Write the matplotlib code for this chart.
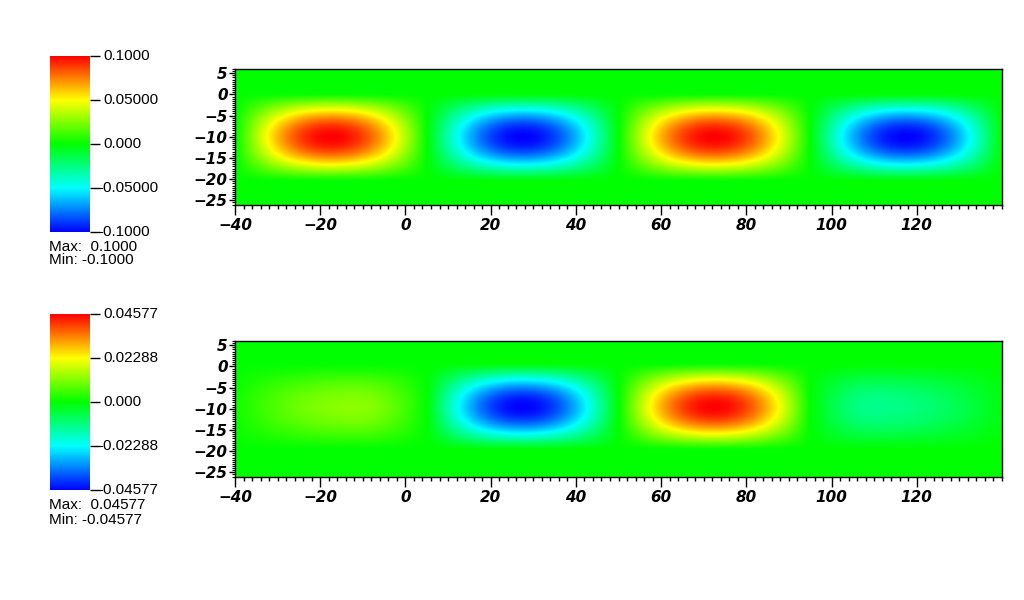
import numpy as np
import matplotlib
matplotlib.use("Agg")
import matplotlib.pyplot as plt
from matplotlib.colors import LinearSegmentedColormap
from matplotlib.ticker import MultipleLocator
import matplotlib.transforms as mtransforms

# ---------------- data ----------------
x_extent = [-40.0, 140.0]
y_extent = [-26.1, 6.0]

x_ticks = [-40, -20, 0, 20, 40, 60, 80, 100, 120]
y_ticks = [5, 0, -5, -10, -15, -20, -25]

# top panel: blobs (centre x, amplitude, half-width left/right), vertical band
top_centers = [-17.5, 27.5, 72.5, 117.5]
top_amps = [0.1, -0.1, 0.1, -0.1]
top_half_left = [22.5, 22.5, 22.5, 22.5]
top_half_right = [22.5, 22.5, 22.5, 22.5]
top_band = [-20.5, 0.3]
top_vmin, top_vmax = -0.1, 0.1
top_cbar_ticks = [-0.1, -0.05, 0.0, 0.05, 0.1]
top_cbar_labels = ["-0.1000", "-0.05000", "0.000", "0.05000", "0.1000"]
top_max_text = "Max:  0.1000"
top_min_text = "Min: -0.1000"

# bottom panel
bot_centers = [-12.0, 27.5, 72.5, 110.0]
bot_amps = [0.0125, -0.04577, 0.04577, -0.0125]
bot_half_left = [30.0, 22.5, 22.5, 15.0]
bot_half_right = [17.0, 22.5, 22.5, 32.0]
bot_band = [-19.8, 0.6]
bot_vmin, bot_vmax = -0.04577, 0.04577
bot_cbar_ticks = [-0.04577, -0.022885, 0.0, 0.022885, 0.04577]
bot_cbar_labels = ["-0.04577", "-0.02288", "0.000", "0.02288", "0.04577"]
bot_max_text = "Max:  0.04577"
bot_min_text = "Min: -0.04577"

cmap_colors = ["#0000ff", "#00ffff", "#00ff00", "#ffff00", "#ff0000"]

# ---------------- helpers ----------------
cmap = LinearSegmentedColormap.from_list("visit_hot", cmap_colors, N=512)

xs = np.linspace(x_extent[0], x_extent[1], 721)
ys = np.linspace(y_extent[0], y_extent[1], 257)


def build_field(centers, amps, hl, hr, band, power=1.2):
    X, Y = np.meshgrid(xs, ys)
    fx = np.zeros_like(X)
    for c, a, l, r in zip(centers, amps, hl, hr):
        d = X - c
        hw = np.where(d < 0, l, r)
        u = np.abs(d) / hw
        fx += a * np.where(u < 1, np.cos(np.pi / 2 * np.clip(u, 0, 1)), 0.0)
    t = (Y - band[0]) / (band[1] - band[0])
    gy = np.where((t > 0) & (t < 1), np.sin(np.pi * np.clip(t, 0, 1)) ** power, 0.0)
    return fx * gy


W, H = 1024, 600
fig = plt.figure(figsize=(W / 100, H / 100), dpi=100)

tick_font = dict(family="DejaVu Sans", weight="bold", style="italic", size=11)
cb_font = dict(family="Liberation Sans", size=11)


def panel(ax_px, cb_px, text_px, centers, amps, hl, hr, band, vmin, vmax,
          cb_ticks, cb_labels, max_text, min_text):
    l, t, r, b = ax_px
    ax = fig.add_axes([l / W, 1 - b / H, (r - l) / W, (b - t) / H])
    Z = build_field(centers, amps, hl, hr, band)
    im = ax.imshow(Z, extent=[x_extent[0], x_extent[1], y_extent[0], y_extent[1]],
                   origin="lower", aspect="auto", cmap=cmap, vmin=vmin, vmax=vmax,
                   interpolation="bilinear")
    ax.set_xlim(*x_extent)
    ax.set_ylim(*y_extent)
    ax.set_xticks(x_ticks)
    ax.set_yticks(y_ticks)
    ax.xaxis.set_minor_locator(MultipleLocator(2))
    ax.yaxis.set_minor_locator(MultipleLocator(0.5))
    ax.tick_params(axis="x", which="major", length=7.2, width=1, pad=2, direction="out")
    ax.tick_params(axis="x", which="minor", length=3.0, width=1, direction="out")
    ax.tick_params(axis="y", which="major", length=4.3, width=1, pad=1, direction="out")
    ax.tick_params(axis="y", which="minor", length=2.2, width=0.8, direction="out")
    for lab in ax.get_xticklabels() + ax.get_yticklabels():
        lab.set_fontfamily(tick_font["family"])
        lab.set_fontweight(tick_font["weight"])
        lab.set_fontstyle(tick_font["style"])
        lab.set_fontsize(tick_font["size"])
    for sp in ax.spines.values():
        sp.set_linewidth(1)
        sp.set_color("black")

    cl, ct, cr, cbt = cb_px
    cax = fig.add_axes([cl / W, 1 - cbt / H, (cr - cl) / W, (cbt - ct) / H])
    cb = fig.colorbar(im, cax=cax, ticks=cb_ticks)
    cb.outline.set_visible(False)
    cax.yaxis.set_ticks_position("right")
    cax.tick_params(axis="y", length=7.2, width=1, labelright=False)
    trans = cax.get_yaxis_transform()
    for val, lab in zip(cb_ticks, cb_labels):
        dx = 5.8 if lab.startswith("-") else 9.4
        off = mtransforms.ScaledTranslation(dx / 72, 0, fig.dpi_scale_trans)
        cax.text(1.0, val, lab, transform=trans + off, ha="left", va="center",
                 clip_on=False, **cb_font)
    tx, ty1, ty2 = text_px
    fig.text(tx / W, 1 - ty1 / H, max_text, ha="left", va="center", **cb_font)
    fig.text(tx / W, 1 - ty2 / H, min_text, ha="left", va="center", **cb_font)


panel((235, 69, 1002, 205), (50, 56, 90, 232), (49, 246.5, 260.5),
      top_centers, top_amps, top_half_left, top_half_right, top_band,
      top_vmin, top_vmax, top_cbar_ticks, top_cbar_labels, top_max_text, top_min_text)

panel((235, 341, 1002, 477), (50, 314, 90, 490), (49, 505, 519.5),
      bot_centers, bot_amps, bot_half_left, bot_half_right, bot_band,
      bot_vmin, bot_vmax, bot_cbar_ticks, bot_cbar_labels, bot_max_text, bot_min_text)

fig.savefig("out.png", dpi=100, facecolor="white")
